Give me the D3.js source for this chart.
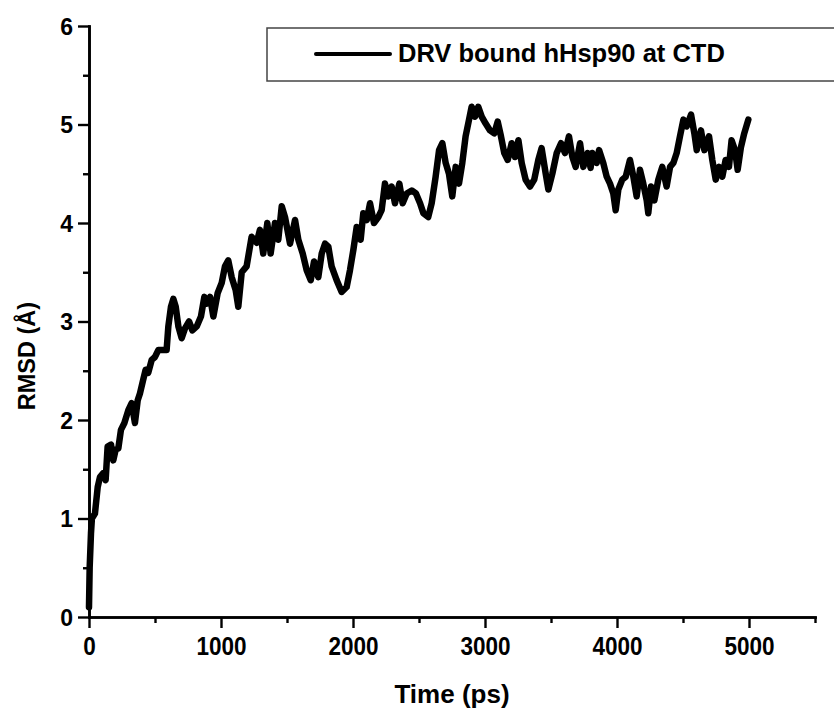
<!DOCTYPE html>
<html>
<head>
<meta charset="utf-8">
<script src="https://cdn.jsdelivr.net/npm/d3@7/dist/d3.min.js"></script>
<style>
	body { margin: 0; background: #fff; }
	svg { display: block; }
	text { font-family: "Liberation Sans", Arial, sans-serif; font-weight: bold; fill: #000; }
</style>
</head>
<body>
<div id="chart"></div>
<script>
// RMSD trace (time in ps, RMSD in angstrom)
var time = [0, 5, 15, 22, 45, 66, 83, 108, 126, 141, 167, 184, 202, 222, 242, 268, 298, 323, 348, 369,
	386, 411, 429, 449, 475, 500, 525, 563, 588, 601, 621, 639, 657, 677, 702, 727, 758, 783, 816, 848,
	874, 891, 917, 942, 975, 1005, 1030, 1055, 1081, 1111, 1131, 1157, 1194, 1232, 1270, 1295, 1320, 1351, 1376, 1409,
	1434, 1460, 1485, 1523, 1561, 1586, 1619, 1649, 1680, 1705, 1737, 1763, 1788, 1813, 1838, 1876, 1914, 1952, 1977, 2003,
	2028, 2058, 2078, 2104, 2129, 2159, 2192, 2217, 2242, 2268, 2293, 2318, 2351, 2376, 2407, 2445, 2477, 2508, 2533, 2570,
	2596, 2626, 2652, 2677, 2702, 2727, 2752, 2778, 2803, 2828, 2853, 2879, 2899, 2924, 2949, 2975, 3005, 3038, 3070, 3096,
	3121, 3146, 3172, 3202, 3227, 3253, 3278, 3308, 3341, 3373, 3404, 3429, 3460, 3480, 3510, 3543, 3576, 3606, 3636, 3662,
	3687, 3720, 3745, 3778, 3800, 3813, 3846, 3864, 3896, 3922, 3947, 3972, 3990, 4010, 4040, 4066, 4098, 4124, 4149, 4174,
	4199, 4225, 4237, 4258, 4283, 4313, 4343, 4376, 4402, 4427, 4452, 4477, 4503, 4528, 4561, 4586, 4604, 4636, 4662, 4697,
	4722, 4748, 4773, 4798, 4823, 4848, 4868, 4894, 4914, 4939, 4964, 4995];

var rmsd = [0.10, 0.50, 0.85, 1.00, 1.05, 1.32, 1.42, 1.46, 1.39, 1.73, 1.75, 1.59, 1.70, 1.71, 1.90, 1.97, 2.10, 2.17, 1.97, 2.20,
	2.27, 2.41, 2.51, 2.48, 2.61, 2.64, 2.71, 2.71, 2.71, 2.95, 3.15, 3.23, 3.15, 2.95, 2.83, 2.93, 3.00, 2.91, 2.95, 3.05,
	3.25, 3.18, 3.25, 3.05, 3.29, 3.39, 3.56, 3.62, 3.45, 3.32, 3.15, 3.50, 3.56, 3.86, 3.80, 3.93, 3.69, 4.00, 3.69, 4.00,
	3.83, 4.17, 4.06, 3.79, 4.03, 3.83, 3.69, 3.52, 3.42, 3.61, 3.45, 3.69, 3.79, 3.76, 3.56, 3.42, 3.30, 3.35, 3.52, 3.73,
	3.96, 3.83, 4.10, 4.03, 4.20, 4.00, 4.06, 4.13, 4.40, 4.27, 4.37, 4.20, 4.40, 4.20, 4.30, 4.33, 4.30, 4.20, 4.10, 4.06,
	4.20, 4.47, 4.74, 4.81, 4.61, 4.50, 4.27, 4.57, 4.40, 4.61, 4.88, 5.05, 5.18, 5.08, 5.18, 5.08, 5.01, 4.94, 4.91, 5.03,
	4.88, 4.71, 4.64, 4.81, 4.67, 4.84, 4.61, 4.44, 4.37, 4.44, 4.64, 4.76, 4.50, 4.34, 4.50, 4.71, 4.81, 4.71, 4.88, 4.67,
	4.57, 4.81, 4.57, 4.71, 4.56, 4.71, 4.61, 4.74, 4.61, 4.47, 4.40, 4.30, 4.13, 4.34, 4.44, 4.47, 4.64, 4.47, 4.27, 4.54,
	4.40, 4.23, 4.10, 4.37, 4.23, 4.44, 4.57, 4.37, 4.57, 4.61, 4.71, 4.88, 5.05, 4.98, 5.10, 4.91, 4.74, 4.94, 4.74, 4.88,
	4.64, 4.44, 4.57, 4.47, 4.64, 4.57, 4.84, 4.74, 4.54, 4.77, 4.91, 5.05];

var xMajor = [0, 1000, 2000, 3000, 4000, 5000];
var xMinor = [500, 1500, 2500, 3500, 4500, 5500];
var yMajor = [0, 1, 2, 3, 4, 5, 6];
var yMinor = [0.5, 1.5, 2.5, 3.5, 4.5, 5.5];
var seriesName = "DRV bound hHsp90 at CTD";

var W = 834, H = 711;
var plotLeft = 89, plotRight = 815, plotTop = 26, plotBottom = 617;

var svg = d3.select("#chart").append("svg")
	.attr("width", W)
	.attr("height", H);

var x = d3.scaleLinear().domain([0, 5500]).range([plotLeft, plotRight]);
var y = d3.scaleLinear().domain([0, 6]).range([plotBottom, plotTop]);

var data = time.map(function(t, i) {
	return {t: t, v: rmsd[i]};
});

/*
 * axes: long ticks with labels, short ticks in between
 */
function styleAxis(g) {
	g.selectAll("path").attr("stroke", "#000").attr("stroke-width", 2.6);
	g.selectAll("line").attr("stroke", "#000").attr("stroke-width", 2.4);
}

svg.append("g")
	.attr("transform", "translate(0," + plotBottom + ")")
	.call(d3.axisBottom(x).tickValues(xMinor).tickSize(6).tickSizeOuter(0).tickFormat(""))
	.call(styleAxis);

var xAxis = svg.append("g")
	.attr("transform", "translate(0," + plotBottom + ")")
	.call(d3.axisBottom(x).tickValues(xMajor).tickSize(11).tickSizeOuter(0).tickFormat(d3.format("d")))
	.call(styleAxis);

xAxis.selectAll("text")
	.attr("font-size", 25)
	.attr("y", 0)
	.attr("dy", 0)
	.attr("transform", "translate(0,38) scale(0.9,1)");

svg.append("g")
	.attr("transform", "translate(" + plotLeft + ",0)")
	.call(d3.axisLeft(y).tickValues(yMinor).tickSize(6).tickSizeOuter(0).tickFormat(""))
	.call(styleAxis);

var yAxis = svg.append("g")
	.attr("transform", "translate(" + plotLeft + ",0)")
	.call(d3.axisLeft(y).tickValues(yMajor).tickSize(11).tickSizeOuter(0).tickPadding(5).tickFormat(d3.format("d")))
	.call(styleAxis);

yAxis.selectAll("text")
	.attr("font-size", 23)
	.attr("dy", "0.36em");

svg.selectAll(".domain").attr("stroke-linecap", "square");

// axis titles
svg.append("text")
	.attr("x", (plotLeft + plotRight) / 2)
	.attr("y", 703)
	.attr("text-anchor", "middle")
	.attr("font-size", 26)
	.text("Time (ps)");

svg.append("text")
	.attr("transform", "translate(35,356) rotate(-90)")
	.attr("text-anchor", "middle")
	.attr("font-size", 23.5)
	.text("RMSD (\u00C5)");

// the trace
var line = d3.line()
	.x(function(d) { return x(d.t); })
	.y(function(d) { return y(d.v); });

svg.append("path")
	.datum(data)
	.attr("d", line)
	.attr("fill", "none")
	.attr("stroke", "#000")
	.attr("stroke-width", 6.5)
	.attr("stroke-linejoin", "round")
	.attr("stroke-linecap", "round");

// legend box, runs off the right edge like the source
var legend = svg.append("g");

legend.append("rect")
	.attr("x", 267)
	.attr("y", 28)
	.attr("width", 600)
	.attr("height", 53)
	.attr("fill", "#fff")
	.attr("stroke", "#444")
	.attr("stroke-width", 1.5);

legend.append("line")
	.attr("x1", 316).attr("x2", 390)
	.attr("y1", 54).attr("y2", 54)
	.attr("stroke", "#000")
	.attr("stroke-width", 4)
	.attr("stroke-linecap", "round");

legend.append("text")
	.attr("x", 398)
	.attr("y", 62)
	.attr("font-size", 25.5)
	.text(seriesName);
</script>
</body>
</html>
